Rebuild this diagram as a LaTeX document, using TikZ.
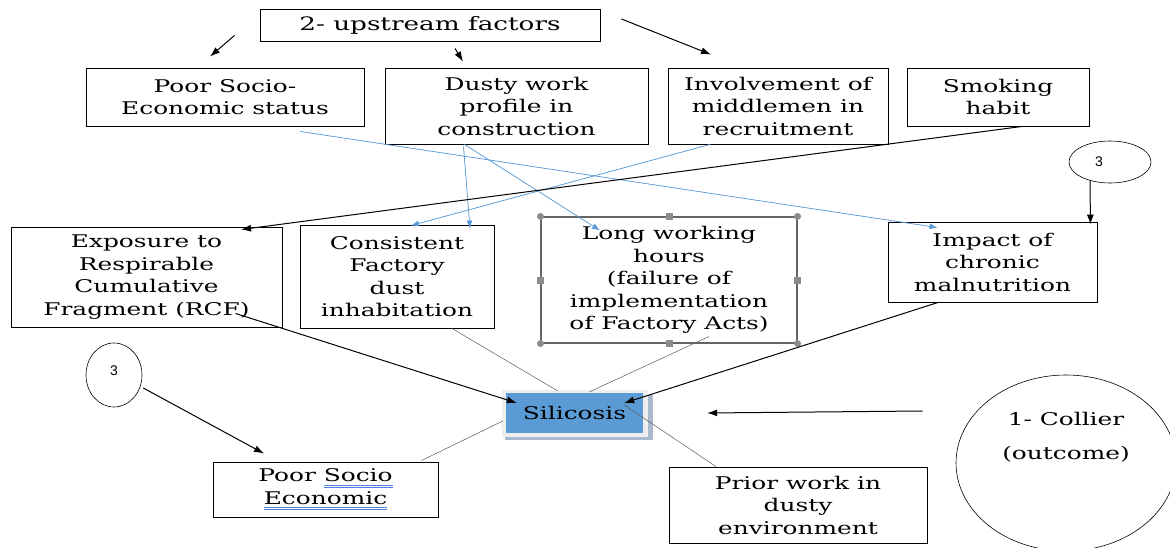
\documentclass[tikz,border=0pt]{standalone}
\usepackage{fontspec}
\setmainfont{DejaVu Serif}[FakeStretch=1.42]
\newfontfamily\numfont{Liberation Sans}
\usepackage{xcolor}
\usetikzlibrary{shapes.geometric, positioning, arrows, arrows.meta}

\definecolor{lineblue}{HTML}{5B9BD5}
\definecolor{silblue}{HTML}{5B9BD5}
\definecolor{framegray}{HTML}{EEEEEE}
\definecolor{shadowgray}{HTML}{A9B9CF}
\definecolor{handlegray}{HTML}{8C8C8C}
\definecolor{spellblue}{HTML}{4F7FE0}

\newsavebox{\spellbox}
\newcommand{\spellerr}[1]{\sbox{\spellbox}{#1}%
  \rlap{\textcolor{spellblue}{\rule[-3.5pt]{\wd\spellbox}{0.6pt}}}%
  \rlap{\textcolor{spellblue}{\rule[-5.5pt]{\wd\spellbox}{0.6pt}}}%
  \usebox{\spellbox}}

\begin{document}
\begin{tikzpicture}[x=1pt, y=-1pt,
  txt/.style={font=\fontsize{17.5}{22.5}\selectfont, align=center},
  box/.style={txt, draw, line width=0.9pt, inner sep=0pt},
  thinline/.style={draw=black!65, line width=0.5pt},
  blk/.style={-{Latex[length=10pt,width=7pt]}, line width=1pt},
  bluearrow/.style={-{Latex[length=8pt,width=6pt]}, draw=lineblue, fill=lineblue, line width=0.7pt},
  numoval/.style={ellipse, draw, line width=0.6pt, inner sep=0pt,
    font=\numfont\fontsize{14}{16}\selectfont}]
\useasboundingbox (0,0) rectangle (1170,548);

% upper row
\node[box, font=\fontsize{18.5}{22.5}\selectfont, minimum width=340, minimum height=32] (up) at (430,25) {2- upstream factors};
\node[box, minimum width=278, minimum height=58] (poor) at (225,97) {Poor Socio-\\Economic status};
\node[box, minimum width=263, minimum height=76] (dusty) at (516.5,106) {Dusty work\\profile in\\construction};
\node[box, minimum width=220, minimum height=76] (middle) at (778,106) {Involvement of\\middlemen in\\recruitment};
\node[box, minimum width=182, minimum height=58] (smoke) at (998,97) {Smoking\\habit};
\node[numoval, minimum width=82, minimum height=42] (three1) at (1110,162) {\hspace*{-22pt}3};

% middle row
\node[box, minimum width=271, minimum height=100] (expo) at (146.5,277) {Exposure to\\Respirable\\Cumulative\\Fragment (RCF)};
\node[box, minimum width=194, minimum height=103] (consis) at (397,276.5) {Consistent\\Factory\\dust\\inhabitation};
\node[box, draw=black!60, line width=1.1pt, minimum width=256, minimum height=126] (longh) at (669,280) {Long working\\hours\\(failure of\\implementation\\of Factory Acts)};
\foreach \a in {north west, north east, south west, south east}
  \fill[handlegray] (longh.\a) circle (3.5);
\foreach \a in {north, south, east, west}
  \fill[handlegray] ([shift={(-3.5,-3.5)}]longh.\a) rectangle ++(7,7);
\node[box, minimum width=209, minimum height=80] (impact) at (992.5,262) {Impact of\\chronic\\malnutrition};

% silicosis and the lower row
\fill[shadowgray] (505,395) rectangle (653,440);
\fill[framegray] (502,390) rectangle (648,437);
\node[txt, fill=silblue, minimum width=137, minimum height=40, inner sep=0pt] (silic) at (574.5,413) {Silicosis};
\node[numoval, minimum width=56, minimum height=64] (three2) at (114,375) {\raisebox{8pt}{3}};
\node[box, minimum width=225, minimum height=55] (poorse) at (325.5,489.5) {Poor \spellerr{Socio}\\\spellerr{Economic}};
\node[box, minimum width=258, minimum height=76] (prior) at (798,505) {Prior work in\\dusty\\environment};
\node[ellipse, draw, line width=0.6pt, minimum width=220, minimum height=176,
  label={[txt, yshift=26pt]center:{1- Collier\\[12pt](outcome)}}] (collier) at (1066,463) {};

% arrows from the upstream box
\draw[blk] ([shift={(-25,-6)}]up.south west) -- ([shift={(-15,-11)}]poor.north);
\draw[blk] ([shift={(25,7)}]up.south) -- ([shift={(-53.5,-6)}]dusty.north);
\draw[blk] ([shift={(21,-6)}]up.east) -- ([shift={(-67,-13)}]middle.north);

% blue links
\draw[bluearrow] ([shift={(75,5)}]poor.south) -- ([shift={(50,6)}]impact.north west);
\draw[bluearrow] ([shift={(-53,2)}]dusty.south) -- ([shift={(73,4)}]consis.north);
\draw[bluearrow] ([shift={(-52,0)}]dusty.south) -- ([shift={(-69,14)}]longh.north);
\draw[bluearrow] ([shift={(-68,0)}]middle.south) -- ([shift={(14,1)}]consis.north);

% black links
\draw[blk] ([shift={(24,0)}]smoke.south) -- ([shift={(94.5,3)}]expo.north);
\draw[blk] ([shift={(-20,-3)}]three1.south) -- ([shift={(-7,3)}]impact.north east);
\draw[blk] ([shift={(-47,-14)}]expo.south east) -- ([shift={(11,-10)}]silic.west);
\draw[blk] ([shift={(-54.5,0)}]impact.south) -- ([shift={(-19,-10)}]silic.east);
\draw[blk] ([shift={(1,13)}]three2.east) -- ([shift={(-61.5,-8)}]poorse.north);
\draw[blk] ([shift={(-33,-52)}]collier.west) -- ([shift={(64,0)}]silic.east);

% thin lines
\draw[thinline] ([shift={(55,0)}]consis.south) -- ([shift={(-17,-2)}]silic.north);
\draw[thinline] ([shift={(40,-7)}]longh.south) -- ([shift={(15,-1)}]silic.north);
\draw[thinline] ([shift={(-3,8)}]silic.west) -- ([shift={(-17,-1)}]poorse.north east);
\draw[thinline] ([shift={(-19,-8)}]silic.east) -- ([shift={(-82,0)}]prior.north);
\end{tikzpicture}
\end{document}
